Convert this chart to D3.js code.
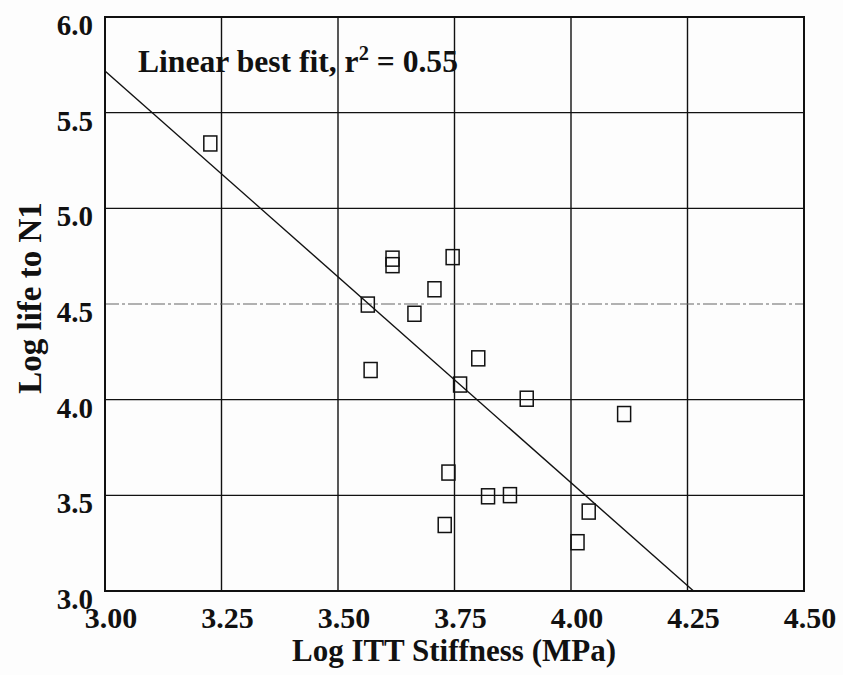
<!DOCTYPE html>
<html>
<head>
<meta charset="utf-8">
<script src="https://cdn.jsdelivr.net/npm/d3@7"></script>
<style>
  html, body { margin: 0; padding: 0; background: #fdfdfd; }
  svg { display: block; }
  text { font-family: "Liberation Serif", "Times New Roman", serif; font-weight: bold; fill: #111; }
</style>
</head>
<body>
<svg id="chart" width="843" height="675"></svg>
<script>
// ---- data ----
const stiffness = [3.226, 3.617, 3.617, 3.746, 3.707, 3.564, 3.664, 3.801, 3.570, 3.762,
                   3.905, 4.114, 3.737, 3.822, 3.869, 4.038, 3.729, 4.014];
const lifeN1 =    [5.339, 4.737, 4.703, 4.745, 4.577, 4.497, 4.449, 4.216, 4.155, 4.079,
                   4.005, 3.925, 3.619, 3.495, 3.501, 3.415, 3.345, 3.255];
const fitX = [3.0, 4.263];
const fitY = [5.718, 3.0];
const xTicks = [3.00, 3.25, 3.50, 3.75, 4.00, 4.25, 4.50];
const yTicks = [3.0, 3.5, 4.0, 4.5, 5.0, 5.5, 6.0];
const xTitle = "Log ITT Stiffness (MPa)";
const yTitle = "Log life to N1";
const fitLabel = "Linear best fit, r";
const fitLabelTail = " = 0.55";

// ---- layout ----
const svg = d3.select("#chart");
const L = 105, R = 804, T = 17, B = 591;
const x = d3.scaleLinear().domain([3.0, 4.5]).range([L, R]);
const y = d3.scaleLinear().domain([3.0, 6.0]).range([B, T]);

// annotation text (gridlines drawn over it)
const ann = svg.append("text").attr("x", 138).attr("y", 72).attr("font-size", 31)
  .attr("textLength", 320).attr("lengthAdjust", "spacingAndGlyphs");
ann.append("tspan").text(fitLabel);
ann.append("tspan").attr("dy", -12).attr("font-size", 20).text("2");
ann.append("tspan").attr("dy", 12).text(fitLabelTail);

// gridlines
svg.append("g").selectAll("line.v").data(xTicks.slice(1, -1)).join("line")
  .attr("x1", d => x(d)).attr("x2", d => x(d)).attr("y1", T).attr("y2", B)
  .attr("stroke", "#111").attr("stroke-width", 1.4);
svg.append("g").selectAll("line.h").data(yTicks.slice(1, -1)).join("line")
  .attr("x1", L).attr("x2", R).attr("y1", d => y(d)).attr("y2", d => y(d))
  .attr("stroke", d => d === 4.5 ? "#666" : "#111")
  .attr("stroke-width", d => d === 4.5 ? 1.1 : 1.4)
  .attr("stroke-dasharray", d => d === 4.5 ? "14,3,3,3" : null);

// frame
svg.append("rect").attr("x", L).attr("y", T).attr("width", R - L).attr("height", B - T)
  .attr("fill", "none").attr("stroke", "#111").attr("stroke-width", 2);

// fit line
svg.append("line")
  .attr("x1", x(fitX[0])).attr("y1", y(fitY[0]))
  .attr("x2", x(fitX[1])).attr("y2", y(fitY[1]))
  .attr("stroke", "#111").attr("stroke-width", 1.4);

// points
svg.append("g").selectAll("rect").data(stiffness.map((s, i) => [s, lifeN1[i]])).join("rect")
  .attr("x", d => x(d[0]) - 6.5).attr("y", d => y(d[1]) - 7.5)
  .attr("width", 13).attr("height", 15)
  .attr("fill", "none").attr("stroke", "#111").attr("stroke-width", 1.5);

// y tick labels
svg.append("g").selectAll("text").data(yTicks).join("text")
  .attr("x", 93).attr("y", d => y(d) + 18)
  .attr("text-anchor", "end").attr("font-size", 29)
  .text(d => d.toFixed(1));

// x tick labels
svg.append("g").selectAll("text").data(xTicks).join("text")
  .attr("x", d => x(d) + 6).attr("y", 628)
  .attr("text-anchor", "middle").attr("font-size", 30)
  .text(d => d.toFixed(2));

// axis titles
svg.append("text").attr("x", 454).attr("y", 661).attr("text-anchor", "middle")
  .attr("font-size", 31).text(xTitle);
svg.append("text").attr("transform", "translate(41,298) rotate(-90)")
  .attr("text-anchor", "middle").attr("font-size", 33).text(yTitle);
</script>
</body>
</html>
